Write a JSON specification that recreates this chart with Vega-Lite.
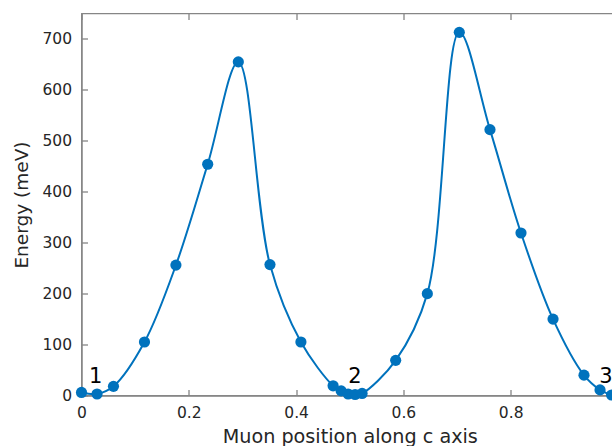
{
  "$schema": "https://vega.github.io/schema/vega-lite/v6.json",
  "width": 536.5,
  "height": 382,
  "autosize": {"type": "none"},
  "padding": {"left": 81.5, "top": 13.5, "right": 0, "bottom": 50.5},
  "background": "white",
  "config": {
    "font": "DejaVu Sans",
    "view": {"stroke": "#868686", "strokeWidth": 1.3},
    "axis": {
      "domainColor": "#868686",
      "domainWidth": 1.3,
      "tickColor": "#868686",
      "tickWidth": 1.3,
      "tickSize": -6,
      "labelFont": "DejaVu Sans",
      "labelFontSize": 15.5,
      "labelColor": "#262626",
      "labelFlush": false,
      "labelOverlap": false,
      "titleFont": "DejaVu Sans",
      "titleFontSize": 18.5,
      "titleFontWeight": "normal",
      "titleColor": "#262626",
      "grid": false,
      "labelPadding": 16
    }
  },
  "datasets": {
    "pts": [
      {"pos": 0.0, "energy": 6},
      {"pos": 0.029, "energy": 3},
      {"pos": 0.0596, "energy": 18},
      {"pos": 0.1174, "energy": 105},
      {"pos": 0.176, "energy": 256},
      {"pos": 0.2352, "energy": 454},
      {"pos": 0.2923, "energy": 655},
      {"pos": 0.3513, "energy": 257},
      {"pos": 0.409, "energy": 105},
      {"pos": 0.469, "energy": 19},
      {"pos": 0.484, "energy": 9},
      {"pos": 0.497, "energy": 3},
      {"pos": 0.51, "energy": 2},
      {"pos": 0.523, "energy": 4},
      {"pos": 0.5856, "energy": 69},
      {"pos": 0.6446, "energy": 200},
      {"pos": 0.7042, "energy": 713},
      {"pos": 0.7614, "energy": 522},
      {"pos": 0.8192, "energy": 319},
      {"pos": 0.8789, "energy": 150},
      {"pos": 0.9366, "energy": 40},
      {"pos": 0.9665, "energy": 11},
      {"pos": 0.988, "energy": 1}
    ],
    "labels": [
      {"pos": 0.0265, "energy": 24.5, "label": "1"},
      {"pos": 0.5098, "energy": 24.5, "label": "2"},
      {"pos": 0.9777, "energy": 24.5, "label": "3"}
    ]
  },
  "layer": [
    {
      "data": {"name": "pts"},
      "mark": {"type": "line", "interpolate": "catmull-rom", "color": "#0072BD", "strokeWidth": 2},
      "encoding": {
        "x": {"field": "pos", "type": "quantitative", "scale": {"domain": [0, 1], "nice": false, "zero": false},
              "axis": {"title": "Muon position along c axis", "titleFontSize": 19.2, "values": [0, 0.2, 0.4, 0.6, 0.8], "format": "~g", "titlePadding": 6}},
        "y": {"field": "energy", "type": "quantitative", "scale": {"domain": [0, 750], "nice": false},
              "axis": {"title": "Energy (meV)", "values": [0, 100, 200, 300, 400, 500, 600, 700], "format": "d", "titlePadding": 10}}
      }
    },
    {
      "data": {"name": "pts"},
      "mark": {"type": "point", "filled": true, "size": 125, "color": "#0072BD", "opacity": 1},
      "encoding": {
        "x": {"field": "pos", "type": "quantitative", "scale": {"domain": [0, 1], "nice": false, "zero": false}, "axis": null},
        "y": {"field": "energy", "type": "quantitative", "scale": {"domain": [0, 750], "nice": false}, "axis": null}
      }
    },
    {
      "data": {"name": "labels"},
      "mark": {"type": "text", "fontSize": 21, "font": "DejaVu Sans", "color": "#000000", "baseline": "alphabetic", "align": "center"},
      "encoding": {
        "x": {"field": "pos", "type": "quantitative", "scale": {"domain": [0, 1], "nice": false, "zero": false}, "axis": null},
        "y": {"field": "energy", "type": "quantitative", "scale": {"domain": [0, 750], "nice": false}, "axis": null},
        "text": {"field": "label"}
      }
    },
    {
      "data": {"name": "pts"},
      "mark": {"type": "point", "opacity": 0},
      "encoding": {
        "x": {"field": "pos", "type": "quantitative", "scale": {"domain": [0, 1], "nice": false, "zero": false},
              "axis": {"orient": "top", "labels": false, "title": null, "domain": false, "values": [0, 0.2, 0.4, 0.6, 0.8, 1]}},
        "y": {"field": "energy", "type": "quantitative", "scale": {"domain": [0, 750], "nice": false},
              "axis": {"orient": "right", "labels": false, "title": null, "domain": false, "values": [0, 100, 200, 300, 400, 500, 600, 700]}}
      }
    }
  ],
  "resolve": {"axis": {"x": "independent", "y": "independent"}}
}
